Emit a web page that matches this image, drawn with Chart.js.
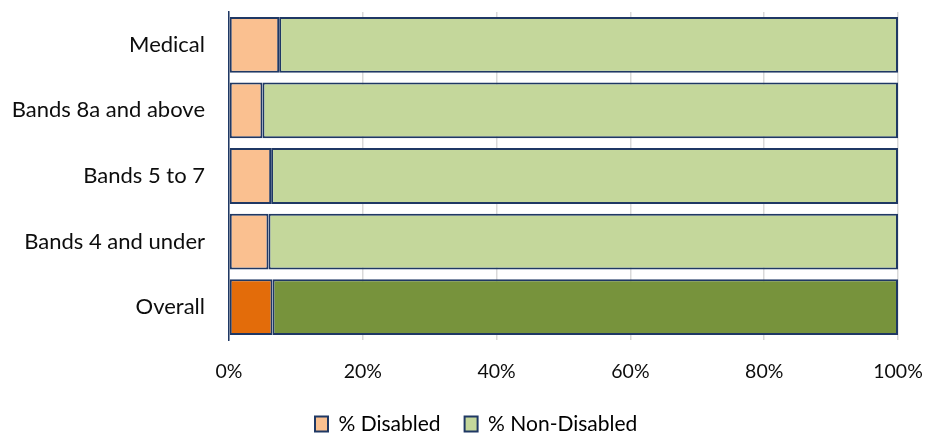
<!DOCTYPE html>
<html>
<head>
<meta charset="utf-8">
<title>Disability by staff group</title>
<script src="https://cdn.jsdelivr.net/npm/chart.js"></script>
<style>
  html, body { margin: 0; padding: 0; background: #fff; }
  #wrap { width: 928px; height: 434px; position: relative; }
</style>
</head>
<body>
<div id="wrap"><canvas id="disabilityChart"></canvas></div>
<script>
// Staff groups, top to bottom
const categories = ['Medical', 'Bands 8a and above', 'Bands 5 to 7', 'Bands 4 and under', 'Overall'];
// Share of staff in each group (%)
const disabledPct = [7.5, 5.0, 6.3, 5.9, 6.5];
const nonDisabledPct = [92.5, 95.0, 93.7, 94.1, 93.5];
const xTicks = [0, 20, 40, 60, 80, 100];

// The "Overall" row gets the darker shades
const disabledColours = categories.map(c => c === 'Overall' ? '#E36C0A' : '#FAC090');
const nonDisabledColours = categories.map(c => c === 'Overall' ? '#77933C' : '#C4D79B');
const navy = '#1F3864';
const fontFamily = "Lato, 'Open Sans', sans-serif";

// park the legend where the report has it: first swatch at x=315, text centred near y=424
const legendPlace = {
    id: 'legendPlace',
    afterLayout(chart) {
        const lg = chart.legend;
        if (!lg || !lg.lineWidths) return;
        const pad = lg.options.labels.padding;
        const startX = ((lg.left + pad) + (lg.right - lg.lineWidths[0])) / 2;
        const dx = 315 - startX;
        lg.left += dx; lg.right += dx;
        const itemH = lg.options.labels.font.size;
        const dy = (424 - pad - itemH / 2) - lg.top;
        lg.top += dy; lg.bottom += dy;
    }
};

const ctx = document.getElementById('disabilityChart').getContext('2d');
new Chart(ctx, {
    type: 'bar',
    data: {
        labels: categories,
        datasets: [
            {
                label: '% Disabled',
                data: disabledPct,
                backgroundColor: disabledColours,
                borderColor: navy,
                borderWidth: 2,
                borderSkipped: false
            },
            {
                label: '% Non-Disabled',
                data: nonDisabledPct,
                backgroundColor: nonDisabledColours,
                borderColor: navy,
                borderWidth: 2,
                borderSkipped: false
            }
        ]
    },
    options: {
        indexAxis: 'y',
        responsive: true,
        maintainAspectRatio: false,
        animation: false,
        barPercentage: 0.85,
        categoryPercentage: 1,
        layout: { padding: { top: 12, right: 30, left: 0, bottom: 0 } },
        plugins: {
            legend: {
                position: 'bottom',
                maxHeight: 50,
                labels: {
                    boxWidth: 13,
                    boxHeight: 15,
                    padding: 24,
                    color: '#1a1a1a',
                    font: { family: fontFamily, size: 21 },
                    generateLabels(chart) {
                        return chart.data.datasets.map((ds, i) => ({
                            text: ds.label,
                            fillStyle: ds.backgroundColor[0],
                            strokeStyle: navy,
                            lineWidth: 2,
                            datasetIndex: i
                        }));
                    }
                }
            },
            tooltip: { enabled: false }
        },
        scales: {
            x: {
                stacked: true,
                min: 0,
                max: 100,
                afterBuildTicks(axis) { axis.ticks = xTicks.map(v => ({ value: v })); },
                afterFit(axis) {
                    axis.height = 44;
                    axis.paddingLeft = 0;
                    axis.paddingRight = 0;
                },
                grid: { drawOnChartArea: true, drawTicks: false, color: '#D9D9D9', lineWidth: 1.5 },
                border: { display: false },
                ticks: {
                    padding: 20,
                    color: '#0d0d0d',
                    font: { family: fontFamily, size: 19.5 },
                    callback: v => v + '%'
                }
            },
            y: {
                stacked: true,
                grid: { display: false },
                border: { color: navy, width: 1.5 },
                afterFit(axis) {
                    axis.width = 229;
                    axis.paddingTop = 0;
                    axis.paddingBottom = 0;
                },
                ticks: {
                    padding: 16,
                    color: '#0d0d0d',
                    font: { family: fontFamily, size: 22 }
                }
            }
        }
    },
    plugins: [legendPlace]
});
</script>
</body>
</html>
